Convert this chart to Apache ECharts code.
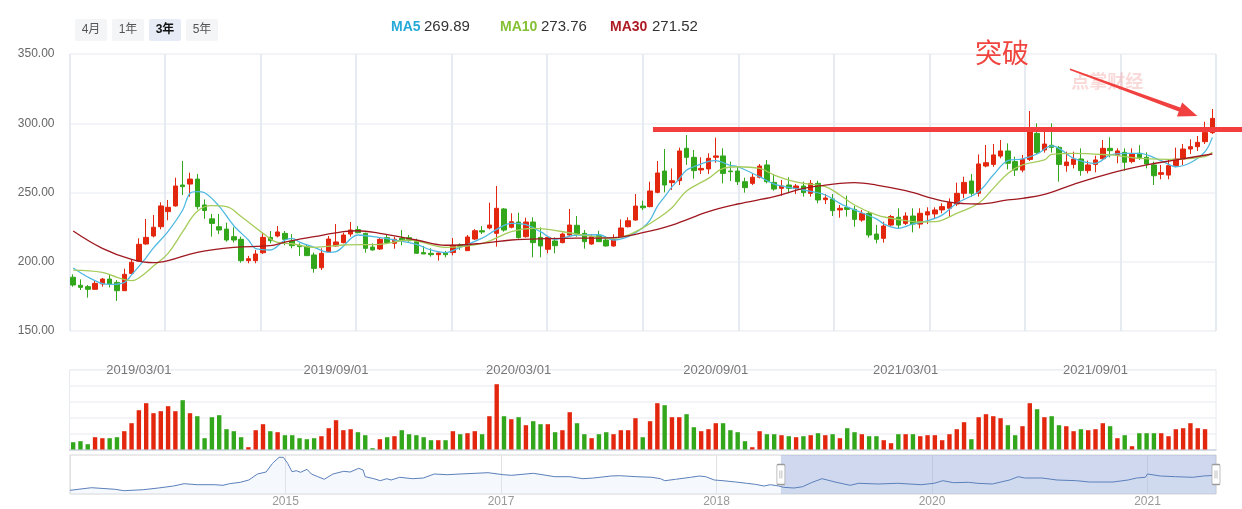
<!DOCTYPE html>
<html>
<head>
<meta charset="utf-8">
<title>K线 3年</title>
<script src="https://cdn.jsdelivr.net/npm/echarts@6/dist/echarts.min.js"></script>
<style>
html,body{margin:0;padding:0;background:#fff;}
#chart{width:1242px;height:509px;}
</style>
</head>
<body>
<div id="chart"></div>
<script>
// ================= DATA =================
const opens = [188.8,183,182,180.1,184,187.5,185.1,179.1,191.6,200.5,
  212.8,218.6,225.3,236.2,240.3,255.4,256.1,259.7,241,231,
  225.3,223.6,218.1,216.2,200.8,200.8,206.5,217.6,218.6,220.5,
  215,211.9,210.9,204.9,195.7,207.3,211.4,213.8,220,223.2,
  220.5,210.6,209.2,217.4,213.3,217.1,217.4,214.5,206.6,206.1,
  205.1,206.6,206.6,212.1,208,216.4,222.4,224.4,220.5,238.1,
  224.9,228.7,218.1,228.7,217.6,209,215,213.8,219.3,226.3,
  220.5,212.8,219.1,215.7,211.4,218.1,225.3,230.1,240.2,239.8,
  250.1,265.5,257.1,258.5,281.9,275.4,266.3,267,275.4,276.4,
  265.5,265.5,257.8,256.6,261,269.9,257.3,253,255.4,253,
  254.7,249.4,256.6,244.8,245.3,237.4,239.1,237.8,230.1,234.9,
  220,216.9,226.5,232.1,227.7,233,227.2,233.8,234.5,237.4,
  238.6,241.7,249.4,258.3,249.4,269.1,270.3,276.3,280,272.3,
  266.2,273.9,292.7,280.7,284.1,282.6,269.4,270.3,274.2,265.8,
  270.3,274.4,281.9,277.1,279,272.3,278.3,275.4,269.9,263.1,
  262.6,269.4,274.2,281.4,283.1,286.7,293.2];
const closes = [183.2,181.5,180.1,184.4,187.5,184,179.1,190.9,199.6,212.6,
  217.6,224.9,240.3,239.3,254.7,254.2,259.7,239.8,237,227.7,
  222.9,215.7,215.7,200.8,202.2,205.6,217.6,215.2,221.5,216.2,
  211.6,210.9,204.4,195.2,206.1,216.4,214.3,219.3,222.9,221,
  209.7,208.5,216.2,213.8,216.2,215.7,215.2,206.1,205.6,205.1,
  206.3,205.1,211.9,210.9,217.9,222.4,221.5,226.5,238.6,222.9,
  228.9,217.4,228.7,213.8,211.4,217.6,211.6,220,226.5,220,
  214.5,218.1,214.5,211.4,216.2,224.4,229.6,240.2,239,251.1,
  264.1,255.4,258.5,280,275.4,265.8,267.4,274.7,276.4,263.8,
  265,257.8,253.5,261,269.1,257.8,252.5,254.7,253,254.7,
  249.9,256.6,244.6,246,236.9,238.6,237.8,230.6,234.9,219.3,
  216.2,225.8,232.6,226.5,233,227.2,235,236.1,237.4,239.8,
  242.7,249.4,257.3,249.4,270.6,271.5,277.1,280,271.1,266.2,
  273.9,293.9,278.8,285,282.6,270.3,272,274.2,265.8,269.9,
  273.5,281.9,280.2,280,271.8,277.8,275.2,270.6,262.1,264.3,
  269.4,274.2,281.4,283.1,286.2,293.4,303.5];
const lows = [182,179.6,174.1,179.6,182,181.5,171.7,179,191.1,200,
  212.3,217.6,223.4,229.9,239.8,248.2,247,237.8,231,218.1,
  220,214.5,214,199.3,198.9,198.9,205.6,213.3,217.6,212,
  209.7,204.2,204.1,192.1,194,206.8,210.9,213.3,218.1,220.5,
  206.6,208,208.5,212.8,209.4,211.9,214.5,206.1,205.6,203.7,
  200.8,203.2,204.6,208.5,208,215.7,220,223.4,210.9,221.7,
  224.1,216.7,217.4,203.2,203.2,206.1,206.1,213.3,218.6,218.1,
  209.4,212.3,214.3,210.9,210.9,217.6,224.8,229.7,237.3,239.3,
  249.4,250.1,251.8,255.4,269.9,260,263.4,263.4,271.5,256.6,
  258.3,255.4,249.9,255.4,260.2,256.6,251.3,247.7,249.4,248.9,
  247,247,242.2,241.7,233,231.8,232.6,225.3,228.9,217.4,
  213.3,213.8,225.3,224.1,226.5,221.2,224.1,227.2,231.3,235,
  232.6,240.3,245.8,247,247,268.2,268.6,274.7,266.7,261.9,
  264.6,272.7,277.8,278.8,278.8,257.8,265,267.4,262.1,263.8,
  264.6,273.5,275.4,271.1,265.8,271.1,273.5,267.4,255.4,259.5,
  259.5,268.2,269.9,277.8,280,285,292.2];
const highs = [190.9,187.3,183.2,186.8,188.3,190.4,186.8,195,201.3,216.9,
  230.9,233.8,242.9,244.6,260.7,272.7,264.3,263.4,245,234.5,
  234.5,228.2,224.9,218.1,204.2,208.5,221,222.2,225.8,222.2,
  220,213.3,212.8,206.6,209.7,218.6,227.2,221,228.7,225.8,
  221,213.3,217.6,219.6,218.1,222.9,219.3,216.7,211.4,209.7,
  206.6,207.8,217.1,213.3,219.3,223.6,225.8,242.7,254.7,238.8,
  235,235.4,231.8,232.1,224.8,218.1,217.6,221,238.1,233,
  222.9,219.8,222.4,218.1,219.8,230.6,232.1,248.9,244.1,257.8,
  272.7,281.4,267.4,282.4,291.5,280.7,275.4,278.3,289.6,281.9,
  272.3,268.6,260.7,263.4,270.6,273.5,263.4,259,261,256.1,
  257.8,259,258.5,248.9,248.9,241,247.7,240.3,237.4,236.1,
  226.5,228.9,233.8,238.6,235.7,238.6,238.6,239.3,239.3,242.2,
  245.8,257.1,261.4,263.3,277.5,284.3,285,287.9,285.5,275.9,
  277.1,308.8,299.9,293.9,299.9,283.6,279.5,279.5,281.9,273,
  276.6,287.9,289.8,281.9,281.9,281.9,284.1,279,272.3,269.9,
  274.2,282.4,285,288.4,290.8,301.1,310.3];
const volumes = [7.3,8.3,5.3,12.3,11.3,11.3,12.3,18.3,26.3,39.3,
  46.3,36.3,38.3,43.3,38.3,49.3,36.3,33.3,11.3,32.3,
  34.3,20.3,18.3,12.3,2.3,19.3,25.3,18.3,17.3,14.3,
  14.3,11.3,10.3,11.3,13.3,21.3,29.3,19.3,20.3,17.3,
  14.3,1.3,10.3,12.3,13.3,19.3,15.3,14.3,12.3,9.3,
  9.3,9.3,18.3,15.3,16.3,18.3,15.3,33.3,65.3,33.3,
  30.3,32.3,24.3,28.3,25.3,25.3,17.3,19.3,37.3,26.3,
  15.3,11.3,15.3,17.3,15.3,19.3,19.3,31.3,12.3,28.3,
  46.3,44.3,32.3,32.3,35.3,22.3,18.3,20.3,26.3,26.3,
  19.3,17.3,8.3,2.3,18.3,15.3,15.3,14.3,13.3,12.3,
  13.3,14.3,16.3,14.3,15.3,11.3,21.3,17.3,15.3,13.3,
  13.3,9.3,6.3,15.3,15.3,15.3,13.3,14.3,14.3,9.3,
  15.3,20.3,27.3,10.3,32.3,35.3,33.3,31.3,24.3,14.3,
  23.3,46.3,40.3,32.3,33.3,24.3,23.3,18.3,20.3,19.3,
  20.3,26.3,23.3,11.3,14.3,3.3,16.3,16.3,16.3,16.3,
  13.3,20.3,21.3,26.3,21.3,20.3,null];
// moving averages, read as [candle index, value]
const ma5 = [[0,195.5],[2,189],[4,184.2],[5,183.7],[7,185],[8,190.5],[10,203],[11,210],[13,222],[15,237.4],[16,249.5],[17,250.6],[18,249.8],[20,240],[22,226],[24,215.7],[25,209.5],[27,208.5],[29,215.7],[30,216.9],[31,214.2],[33,210.4],[35,206.8],[36,207.3],[39,219.3],[42,217.4],[44,215.7],[47,212.5],[49,208.5],[51,206.6],[53,210.4],[56,217],[58,223.4],[60,227.7],[62,226.8],[64,221.7],[66,216.2],[69,219.3],[72,219.5],[74,215.7],[76,218.1],[78,224.5],[79,230],[80,240],[81,247],[82,254],[83,260],[84,266.3],[85,268.6],[87,272.5],[88,273],[90,269.5],[91,268.6],[94,261.4],[96,256.1],[98,253.7],[100,251.8],[103,248.2],[105,242.2],[107,237.4],[110,231],[111,227.3],[113,224.1],[115,227.3],[117,229.7],[119,233.7],[121,242.2],[124,250.6],[126,262.6],[128,273],[130,274.2],[132,277.8],[134,283.6],[135,281.9],[137,274.7],[140,271.1],[142,277.1],[144,278.3],[146,278.3],[149,273],[151,268.6],[153,271.5],[155,279.5],[156,289.8]];
const ma10 = [[0,194],[4,192.4],[6,188.8],[8,186.4],[9,188.3],[11,196.9],[13,206.1],[15,221.7],[17,236.5],[19,240.5],[21,239.8],[23,232.6],[26,220.5],[28,214],[30,213],[33,210.4],[37,212.1],[42,212.6],[46,215.7],[51,210.4],[56,213.3],[60,221.7],[63,224.1],[65,223.4],[69,220],[74,216.9],[76,219.3],[78,224.5],[80,231],[82,239],[84,251],[87,260.2],[89,267.4],[91,268.6],[94,267.4],[96,262.6],[98,259],[100,256.6],[103,254.2],[105,248.2],[107,241],[110,233.8],[112,231.4],[114,229.7],[116,228.7],[118,228.9],[119,230.1],[121,234.9],[124,242.2],[126,253],[128,263.8],[130,269.9],[133,273.5],[134,277.5],[137,278.3],[142,277.1],[144,275.9],[146,274.7],[151,273.9],[155,275.9],[156,279]];
const ma30 = [[0,222.2],[4,209.7],[8,201.7],[11,199.3],[13,200.8],[17,206.8],[22,210.4],[27,211.6],[29,214.2],[33,218.1],[37,221.7],[39,222.4],[42,220.5],[47,215.7],[51,211.9],[56,213.3],[60,215.7],[65,216.7],[69,217],[74,217.4],[78,221],[82,226.5],[87,236.2],[91,241.7],[96,247],[100,253],[103,255.4],[105,256.6],[107,257.1],[110,255.4],[114,251.3],[119,244],[122,242],[124,241.7],[128,244.6],[130,245.8],[133,248.7],[137,255.9],[142,263.8],[147,269.9],[151,273.5],[156,277.8]];
const maNames = ['MA5','MA10','MA30'];
const maLastValues = ['269.89','273.76','271.52'];
const periodButtons = ['4月','1年','3年','5年'];
const activePeriod = '3年';
const dateTickIndex = [9,36,61,88,114,140];
const dateTickLabels = ['2019/03/01','2019/09/01','2020/03/01','2020/09/01','2021/03/01','2021/09/01'];
// long-history overview under the chart: [position, level]
const overview = [[0,3.7],[0.1,6.3],[0.21,4.7],[0.25,3.3],[0.34,4.3],[0.41,6],[0.48,8],[0.53,10.3],[0.59,9.3],[0.67,9.3],[0.71,8.7],[0.74,10.3],[0.79,11.7],[0.83,14],[0.87,20],[0.91,22],[0.94,30.7],[0.97,36.7],[0.99,36.7],[1.01,30.7],[1.03,22.3],[1.05,23.3],[1.07,21.7],[1.1,24.7],[1.12,20],[1.15,17.3],[1.18,14.7],[1.22,20],[1.27,22.7],[1.3,22],[1.34,25.7],[1.36,24],[1.37,17.3],[1.41,15.3],[1.44,13.3],[1.47,15.3],[1.49,14],[1.53,16.7],[1.59,15.3],[1.64,16],[1.69,20],[1.75,19.3],[1.81,20],[1.88,20.7],[1.94,21.3],[2.01,19.3],[2.05,18.7],[2.15,20.7],[2.25,17.3],[2.32,17.3],[2.38,15.3],[2.43,16],[2.51,18],[2.55,18.3],[2.63,17.3],[2.7,16.7],[2.74,15.3],[2.76,13.3],[2.81,14.7],[2.88,16.7],[2.92,18],[2.95,17.3],[2.99,14],[3.03,13.3],[3.09,12],[3.14,10.7],[3.18,9.7],[3.22,8],[3.25,9.3],[3.29,8],[3.31,6.7],[3.36,6],[3.4,7.3],[3.44,11.3],[3.49,15.3],[3.55,12],[3.62,8.7],[3.66,10.7],[3.75,10],[3.84,10.7],[3.95,9.3],[4.01,10.7],[4.05,13.3],[4.1,11.3],[4.17,11.7],[4.21,10.7],[4.28,10],[4.32,12],[4.36,14],[4.4,17.3],[4.43,16],[4.51,16],[4.58,14],[4.67,13.3],[4.73,12],[4.84,12],[4.91,14],[4.95,16],[4.99,16.7],[5.0,20],[5.06,18],[5.13,17.3],[5.21,16.7],[5.26,18],[5.318,18.7]];
const overviewTickLabels = ['', '2015', '2017', '2018', '2020', '2021'];
const overviewWindow = [3.299, 5.318];
const breakoutPrice = 295.5;
const breakoutStartIndex = 79.4;
const annotationText = '突破';
const watermarkText = '点掌财经';

// ================= STYLE =================
const FONT = '"Liberation Sans", "Noto Sans CJK SC", sans-serif';
const RED = '#e3260e', GREEN = '#33a71c';
const MA_LINE = ['#50b9e2', '#a5cc5a', '#a0181f'];
const MA_TEXT = ['#26a9d8', '#86c035', '#ae1b23'];

const categories = [];
(function () {
  const start = new Date(2018, 11, 28);
  for (let i = 0; i < opens.length; i++) {
    const d = new Date(start.getTime() + i * 7 * 86400000);
    categories.push(d.getFullYear() + '/' + String(d.getMonth() + 1).padStart(2, '0') + '/' + String(d.getDate()).padStart(2, '0'));
  }
})();

const chart = echarts.init(document.getElementById('chart'), null, { renderer: 'canvas' });

const option = {
  animation: false,
  backgroundColor: '#fff',
  textStyle: { fontFamily: FONT },
  grid: [
    { left: 69.5, right: 26, top: 54, height: 277, containLabel: false, outerBoundsMode: 'none' },
    { left: 69.5, right: 26, top: 369.5, height: 80, containLabel: false, outerBoundsMode: 'none',
      show: true, borderColor: '#e6eaf0', borderWidth: 1 },
    { left: 70, right: 26, top: 455, height: 39, containLabel: false, outerBoundsMode: 'none',
      show: true, borderColor: '#d6d6d6', borderWidth: 1 }
  ],
  xAxis: [
    { type: 'category', gridIndex: 0, data: categories, boundaryGap: true,
      axisLine: { show: false }, axisTick: { show: false }, splitLine: { show: false },
      axisLabel: {
        show: true, margin: 33, color: '#777', fontSize: 13, fontFamily: FONT,
        interval: (idx) => dateTickIndex.indexOf(idx) >= 0,
        formatter: (v, idx) => { const k = dateTickIndex.indexOf(idx); return k >= 0 ? dateTickLabels[k] : ''; }
      } },
    { type: 'value', gridIndex: 0, min: 0, max: 12, interval: 1,
      axisLine: { show: false }, axisTick: { show: false }, axisLabel: { show: false },
      splitLine: { show: true, lineStyle: { color: '#e6eaf1', width: 2 } } },
    { type: 'category', gridIndex: 1, data: categories, boundaryGap: true,
      axisLine: { show: true, lineStyle: { color: '#cdd4df', width: 1.5 } },
      axisTick: { show: false }, axisLabel: { show: false }, splitLine: { show: false } },
    { type: 'value', gridIndex: 2, min: 0, max: 5.318, interval: 1,
      axisLine: { show: false }, axisTick: { show: false },
      axisLabel: { show: true, margin: 2, color: '#999', fontSize: 12, fontFamily: FONT,
        formatter: (v) => (Number.isInteger(v) && overviewTickLabels[v]) ? overviewTickLabels[v] : '' },
      splitLine: { show: true, lineStyle: { color: '#e2e2e2', width: 1 } } }
  ],
  yAxis: [
    { type: 'value', gridIndex: 0, min: 150, max: 350, interval: 50,
      axisLine: { show: false }, axisTick: { show: false },
      axisLabel: { margin: 15, color: '#666', fontSize: 12, fontFamily: FONT, formatter: (v) => v.toFixed(2) },
      splitLine: { show: true, lineStyle: { color: '#eef0f4', width: 1.5 } } },
    { type: 'value', gridIndex: 1, min: 0, max: 80, interval: 16,
      axisLine: { show: false }, axisTick: { show: false }, axisLabel: { show: false },
      splitLine: { show: true, lineStyle: { color: '#eef0f4', width: 1.5 } } },
    { type: 'value', gridIndex: 2, min: 0, max: 39,
      axisLine: { show: false }, axisTick: { show: false }, axisLabel: { show: false },
      splitLine: { show: false } }
  ],
  series: [
    { type: 'candlestick', name: 'K', xAxisIndex: 0, yAxisIndex: 0, z: 3,
      barWidth: 5,
      data: opens.map((o, i) => [o, closes[i], lows[i], highs[i]]),
      itemStyle: { color: RED, color0: GREEN, borderColor: RED, borderColor0: GREEN, borderWidth: 1 } },
    { type: 'line', name: maNames[0], xAxisIndex: 0, yAxisIndex: 0, z: 4, data: ma5, smooth: 0.35,
      showSymbol: false, lineStyle: { color: MA_LINE[0], width: 1.3 } },
    { type: 'line', name: maNames[1], xAxisIndex: 0, yAxisIndex: 0, z: 4, data: ma10, smooth: 0.4,
      showSymbol: false, lineStyle: { color: MA_LINE[1], width: 1.3 } },
    { type: 'line', name: maNames[2], xAxisIndex: 0, yAxisIndex: 0, z: 4, data: ma30, smooth: 0.4,
      showSymbol: false, lineStyle: { color: MA_LINE[2], width: 1.3 } },
    { type: 'bar', name: 'VOL', xAxisIndex: 2, yAxisIndex: 1, barWidth: 4.4,
      data: volumes.map((v, i) => ({ value: v, itemStyle: { color: closes[i] >= opens[i] ? RED : GREEN } })) },
    { type: 'line', name: 'overview', xAxisIndex: 3, yAxisIndex: 2, data: overview,
      showSymbol: false, smooth: false,
      lineStyle: { color: '#5b80bb', width: 1 },
      areaStyle: { color: 'rgba(214,226,241,0.35)' },
      markArea: { silent: true, itemStyle: { color: 'rgba(148,168,218,0.45)' },
        data: [[{ xAxis: overviewWindow[0] }, { xAxis: overviewWindow[1] }]] },
      markPoint: { silent: true, symbolKeepAspect: false,
        symbol: 'path://M1,0 H7 Q8,0 8,1 V19 Q8,20 7,20 H1 Q0,20 0,19 V1 Q0,0 1,0 Z M3,6 V14 M5,6 V14',
        symbolSize: [8, 20], label: { show: false },
        itemStyle: { color: '#fff', borderColor: '#9a9a9a', borderWidth: 1 },
        data: [{ coord: [overviewWindow[0], 19.5] }, { coord: [overviewWindow[1], 19.5] }] } }
  ]
};
chart.setOption(option);

// ---- annotations anchored through the chart's own scales ----
function px(i, p) {
  const i0 = Math.floor(i), f = i - i0;
  const a = chart.convertToPixel({ seriesIndex: 0 }, [i0, p]);
  const b = chart.convertToPixel({ seriesIndex: 0 }, [i0 + 1, p]);
  return [a[0] + (b[0] - a[0]) * f, a[1]];
}

const graphics = [];
// period buttons
periodButtons.forEach((name, k) => {
  const x0 = 75 + k * 37, active = name === activePeriod;
  graphics.push({ type: 'rect', shape: { x: x0, y: 19, width: 32, height: 22, r: 2 },
    style: { fill: active ? '#e6ebf6' : '#f4f5f7' } });
  graphics.push({ type: 'text', x: x0 + 16, y: 30,
    style: { text: name, fill: active ? '#111' : '#555', font: (active ? 'bold ' : '') + '12px ' + FONT,
      textAlign: 'center', textVerticalAlign: 'middle', align: 'center', verticalAlign: 'middle' } });
});
// MA legend
const legendPos = [[391, 424], [500, 541], [610, 652]];
maNames.forEach((n, k) => {
  graphics.push({ type: 'text', x: legendPos[k][0], y: 27,
    style: { text: n, fill: MA_TEXT[k], font: 'bold 14px ' + FONT, textVerticalAlign: 'middle', verticalAlign: 'middle' } });
  graphics.push({ type: 'text', x: legendPos[k][1], y: 27,
    style: { text: maLastValues[k], fill: '#333', font: '15px ' + FONT, textVerticalAlign: 'middle', verticalAlign: 'middle' } });
});
// watermark
const wm = px(141.6, 330.5);
graphics.push({ type: 'text', x: wm[0], y: wm[1], z: 0,
  style: { text: watermarkText, fill: 'rgba(236,120,120,0.28)', font: 'bold 18px "Noto Sans CJK SC", sans-serif',
    textAlign: 'center', textVerticalAlign: 'middle', align: 'center', verticalAlign: 'middle' } });
// breakout line
const bl = px(breakoutStartIndex, breakoutPrice);
graphics.push({ type: 'rect', z: 50, shape: { x: bl[0], y: bl[1] - 2.6, width: 1242 - bl[0], height: 5.2 },
  style: { fill: '#f23e3e' } });
// annotation text
const tp = px(127.2, 351.1);
graphics.push({ type: 'text', x: tp[0], y: tp[1], z: 50,
  style: { text: annotationText, fill: '#f0453f', font: '27px "Noto Sans CJK SC", sans-serif',
    textAlign: 'center', textVerticalAlign: 'middle', align: 'center', verticalAlign: 'middle' } });
// arrow
(function () {
  const S = px(136.5, 339), T = px(153.95, 305.2);
  const dx = T[0] - S[0], dy = T[1] - S[1], L = Math.hypot(dx, dy);
  const ux = dx / L, uy = dy / L, nx = -uy, ny = ux;
  const headLen = 19, headW = 7.5;
  const B = [T[0] - ux * headLen, T[1] - uy * headLen];
  const pts = [
    [S[0] + nx * 0.7, S[1] + ny * 0.7],
    [B[0] + nx * 2.2, B[1] + ny * 2.2],
    [B[0] + nx * headW, B[1] + ny * headW],
    T,
    [B[0] - nx * headW, B[1] - ny * headW],
    [B[0] - nx * 2.2, B[1] - ny * 2.2],
    [S[0] - nx * 0.7, S[1] - ny * 0.7]
  ];
  graphics.push({ type: 'polygon', z: 50, shape: { points: pts }, style: { fill: '#f0403f' } });
})();

chart.setOption({ graphic: graphics });
</script>
</body>
</html>
